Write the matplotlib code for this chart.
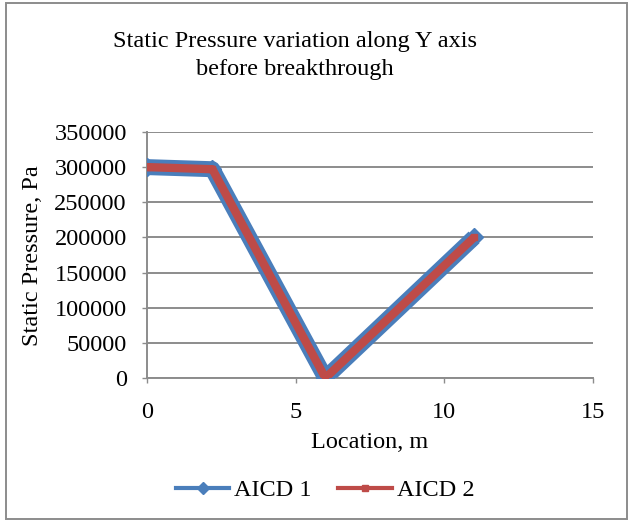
import matplotlib.pyplot as plt
from matplotlib.patches import Rectangle
from matplotlib.lines import Line2D

plt.rcParams['font.family'] = ['Liberation Serif', 'DejaVu Serif']

location = [0, 2.2, 6, 11]
aicd1 = [300000, 297000, 0, 200000]
aicd2 = [300000, 297000, 0, 200000]
xticks = [0, 5, 10, 15]
yticks = [0, 50000, 100000, 150000, 200000, 250000, 300000, 350000]

blue = '#4A7EBB'
red = '#BE4B48'
grid = '#8C8C8C'
fs = 17.5

fig = plt.figure(figsize=(6.3, 5.22), dpi=100)
ax = fig.add_axes([0.2333, 0.2759, 0.708, 0.4713])

ax.plot(location, aicd1, color=blue, lw=11.5, marker='D', ms=9.5,
        solid_joinstyle='round', solid_capstyle='butt', zorder=3)
ax.plot(location, aicd2, color=red, lw=6, marker='s', ms=5,
        solid_joinstyle='round', solid_capstyle='butt', zorder=4)

ax.set_xlim(0, 15)
ax.set_ylim(0, 350000)
ax.set_xticks(xticks)
ax.set_yticks(yticks)
ax.tick_params(labelsize=fs, length=3.5, color=grid, width=1)
ax.tick_params(axis='x', pad=14)
ax.tick_params(axis='y', pad=11)
ax.yaxis.grid(True, color=grid, lw=1.4)
ax.set_axisbelow(True)
for s in ['top', 'right']:
    ax.spines[s].set_visible(False)
for s in ['left', 'bottom']:
    ax.spines[s].set_color(grid)
    ax.spines[s].set_linewidth(1.4)

fig.text(0.587, 0.153, 'Location, m', ha='center', va='center', fontsize=fs)
fig.text(0.051, 0.510, 'Static Pressure, Pa', ha='center', va='center',
         rotation=90, fontsize=fs)
fig.text(0.468, 0.893, 'Static Pressure variation along Y axis\nbefore breakthrough',
         ha='center', va='center', fontsize=fs, linespacing=1.45)

handles = [Line2D([], [], color=blue, lw=3, marker='D', ms=6),
           Line2D([], [], color=red, lw=3, marker='s', ms=3.8)]
fig.legend(handles, ['AICD 1', 'AICD 2'], loc='center', bbox_to_anchor=(0.516, 0.061),
           ncol=2, frameon=False, fontsize=fs, handlelength=2.2,
           columnspacing=1.1, handletextpad=0.2)

fig.patches.append(Rectangle((0.01, 0.006), 0.985, 0.988, transform=fig.transFigure,
                             fill=False, edgecolor=grid, lw=1.4))

fig.savefig('out.png', dpi=100)
